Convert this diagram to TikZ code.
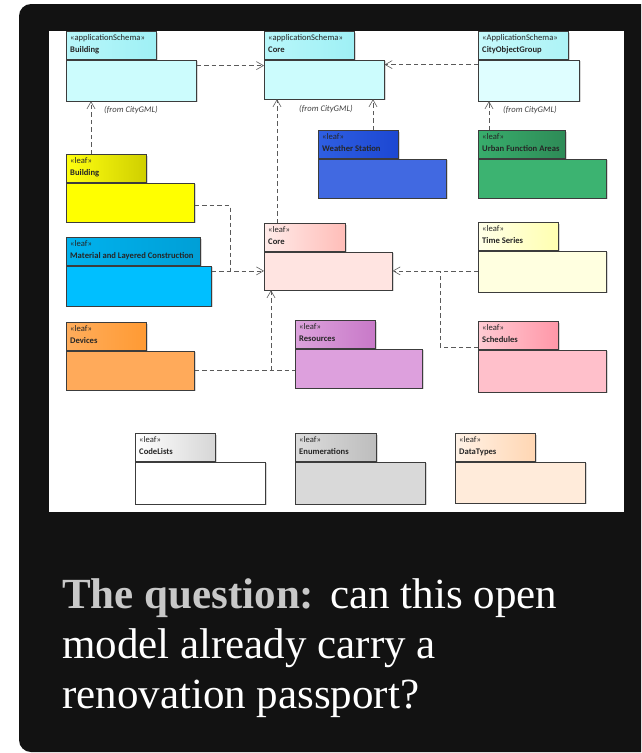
\documentclass[tikz,border=0pt]{standalone}
\usepackage{fontspec}
\setmainfont{Liberation Serif}
\newfontfamily\umlfont{Carlito}
\usepackage{tikz}
\usetikzlibrary{arrows.meta}
\usetikzlibrary{shadows}

\definecolor{cardbg}{HTML}{121212}
\definecolor{pkgline}{HTML}{3C3C3C}
\definecolor{depgray}{HTML}{5A5A5A}
\definecolor{notegray}{HTML}{404040}
\definecolor{qgray}{HTML}{C8C8C8}

\tikzset{
	pkgtab/.style={draw=pkgline, line width=0.6pt, minimum height=28pt, inner sep=0pt, anchor=north west,
		drop shadow={shadow xshift=1.2pt, shadow yshift=-1.2pt, opacity=0.3}},
	pkgbody/.style={draw=pkgline, line width=0.6pt, inner sep=0pt, anchor=north west,
		drop shadow={shadow xshift=1.2pt, shadow yshift=-1.2pt, opacity=0.3}},
	pkglabel/.style={font=\umlfont\fontsize{8.6}{11.5}\selectfont, text=black!85, align=left, anchor=north west, inner sep=0pt},
	fromnote/.style={font=\umlfont\itshape\fontsize{8.6}{9}\selectfont, text=notegray, anchor=west, inner sep=0pt},
	depline/.style={draw=depgray, line width=0.6pt, dash pattern=on 4.5pt off 3pt},
	dep/.style={depline, -{Straight Barb[length=7pt, width=8pt, line width=0.6pt]}},
	qtext/.style={font=\fontsize{43}{50}\selectfont, text=white, anchor=base west, inner sep=0pt},
	% colours of the packages
	appcyan tab/.style={left color=HTML-B8F7FA, right color=HTML-9FF0F5},
	appcyan body/.style={fill=HTML-CCFCFD},
	applight tab/.style={left color=HTML-C6F9FB, right color=HTML-ADF3F6},
	applight body/.style={fill=HTML-DFFEFF},
	bldgyel tab/.style={left color=HTML-FFFF10, right color=HTML-CFCF00},
	bldgyel body/.style={fill=HTML-FFFF00},
	wsblue tab/.style={left color=HTML-2F5FE2, right color=HTML-1C47D2},
	wsblue body/.style={fill=HTML-4169E1},
	ufagreen tab/.style={left color=HTML-38AD6C, right color=HTML-2E8B57},
	ufagreen body/.style={fill=HTML-3CB371},
	matlsky tab/.style={left color=HTML-00B2EE, right color=HTML-009FD6},
	matlsky body/.style={fill=HTML-00BFFF},
	corerose tab/.style={left color=HTML-FFEBE9, right color=HTML-FFBDB8},
	corerose body/.style={fill=HTML-FFE4E1},
	devorange tab/.style={left color=HTML-FFAD5C, right color=HTML-FF9A33},
	devorange body/.style={fill=HTML-FFAA5A},
	resplum tab/.style={left color=HTML-DCA2DC, right color=HTML-C879C8},
	resplum body/.style={fill=HTML-DDA0DD},
	tsivory tab/.style={left color=HTML-FFFFE8, right color=HTML-FFFFB0},
	tsivory body/.style={fill=HTML-FFFFE0},
	schpink tab/.style={left color=HTML-FFCBD3, right color=HTML-FF97A8},
	schpink body/.style={fill=HTML-FFC0CB},
	clwhite tab/.style={left color=white, right color=HTML-D6D6D6},
	clwhite body/.style={fill=white},
	engray tab/.style={left color=HTML-DCDCDC, right color=HTML-BDBDBD},
	engray body/.style={fill=HTML-D9D9D9},
	dtpeach tab/.style={left color=HTML-FFF2E6, right color=HTML-FFD6B3},
	dtpeach body/.style={fill=HTML-FFEBDA},
}

% colours named HTML-xxxxxx
\newcommand{\defhtml}[1]{\definecolor{HTML-#1}{HTML}{#1}}
\defhtml{B8F7FA}\defhtml{9FF0F5}\defhtml{CCFCFD}
\defhtml{C6F9FB}\defhtml{ADF3F6}\defhtml{DFFEFF}
\defhtml{FFFF10}\defhtml{CFCF00}\defhtml{FFFF00}
\defhtml{2F5FE2}\defhtml{1C47D2}\defhtml{4169E1}
\defhtml{38AD6C}\defhtml{2E8B57}\defhtml{3CB371}
\defhtml{00B2EE}\defhtml{009FD6}\defhtml{00BFFF}
\defhtml{FFEBE9}\defhtml{FFBDB8}\defhtml{FFE4E1}
\defhtml{FFAD5C}\defhtml{FF9A33}\defhtml{FFAA5A}
\defhtml{DCA2DC}\defhtml{C879C8}\defhtml{DDA0DD}
\defhtml{FFFFE8}\defhtml{FFFFB0}\defhtml{FFFFE0}
\defhtml{FFCBD3}\defhtml{FF97A8}\defhtml{FFC0CB}
\defhtml{D6D6D6}
\defhtml{DCDCDC}\defhtml{BDBDBD}\defhtml{D9D9D9}
\defhtml{FFF2E6}\defhtml{FFD6B3}\defhtml{FFEBDA}

\newcommand{\drawpackage}[9]{% name, x, y, tab width, body width, body height, stereotype, title, colour
	\node[pkgtab, #9 tab, minimum width=#4pt] (#1-tab) at (#2, #3) {};
	\node[pkgbody, #9 body, minimum width=#5pt, minimum height=#6pt] (#1) at (#1-tab.south west) {};
	\node[pkglabel] (#1-name) at ([shift={(4,3.5)}]#1-tab.north west) {«#7»\\\textbf{#8}};
}

\begin{document}
\begin{tikzpicture}[x=1pt, y=-1pt]
\useasboundingbox (0, 0) rectangle (641, 753);
\clip (0, 0) rectangle (641, 753);
\fill[white] (0, 0) rectangle (641, 753);
\fill[cardbg, rounded corners=12pt] (19, 4) rectangle (680, 752);
\fill[white] (49, 31) rectangle (624, 512);

% schemas from CityGML
\drawpackage{bldgschema}{66}{31}{90}{130}{41}{applicationSchema}{Building}{appcyan}
\drawpackage{coreschema}{264}{31}{90}{120}{39}{applicationSchema}{Core}{appcyan}
\drawpackage{cogroup}{478}{31}{90}{101}{41}{ApplicationSchema}{CityObjectGroup}{applight}

\node[fromnote] (bldgschema-from) at ([shift={(38,9)}]bldgschema.south west) {(from CityGML)};
\node[fromnote] (coreschema-from) at ([shift={(35,10)}]coreschema.south west) {(from CityGML)};
\node[fromnote] (cogroup-from) at ([shift={(25,9)}]cogroup.south west) {(from CityGML)};

% leaf packages
\drawpackage{bldg}{66}{154}{80}{128}{39}{leaf}{Building}{bldgyel}
\drawpackage{weather}{318}{130}{80}{128}{39}{leaf}{Weather Station}{wsblue}
\drawpackage{urban}{478}{130}{87}{128}{39}{leaf}{Urban Function Areas}{ufagreen}
\drawpackage{corel}{264}{223}{81}{128}{38}{leaf}{Core}{corerose}
\drawpackage{matl}{66}{237}{134}{145}{40}{leaf}{Material and Layered Construction}{matlsky}
\drawpackage{devices}{66}{322}{80}{128}{39}{leaf}{Devices}{devorange}
\drawpackage{resources}{295}{320}{80}{127}{39}{leaf}{Resources}{resplum}
\drawpackage{timeseries}{478}{222}{80}{128}{41}{leaf}{Time Series}{tsivory}
\drawpackage{schedules}{478}{321}{80}{128}{42}{leaf}{Schedules}{schpink}
\drawpackage{codelists}{135}{433}{80}{130}{42}{leaf}{CodeLists}{clwhite}
\drawpackage{enums}{295}{433}{81}{130}{42}{leaf}{Enumerations}{engray}
\drawpackage{datatypes}{455}{433}{80}{130}{41}{leaf}{DataTypes}{dtpeach}

% dependencies
\draw[dep] ([yshift=-6pt]bldgschema.north east) -- ([yshift=-6pt]coreschema.north west);
\draw[dep] ([yshift=-5pt]cogroup.north west) -- ([yshift=-5pt]coreschema.north east);

\coordinate (bldgup) at ([xshift=25pt]bldg-tab.north west);
\coordinate (wsup) at ([xshift=55pt]weather-tab.north west);
\coordinate (ufaup) at ([xshift=11pt]urban-tab.north west);
\coordinate (coreup) at ([xshift=13pt]corel-tab.north west);
\draw[dep] (bldgup) -- (bldgup |- bldgschema.south);
\draw[dep] (wsup) -- (wsup |- coreschema.south);
\draw[dep] (ufaup) -- (ufaup |- cogroup.south);
\draw[dep] (coreup) -- (coreup |- coreschema.south);

\coordinate (joinL) at ([xshift=-34pt]corel.west);
\coordinate (joinB) at ([xshift=7pt]corel.south west |- devices.east);
\coordinate (joinR) at ([xshift=48pt]corel.east);
\draw[depline] ([yshift=-3pt]bldg.east) -| (joinL);
\draw[dep] (matl.east |- corel.west) -- (corel.west);
\draw[depline] (devices.east) -- (resources.west |- devices.east);
\draw[dep] (joinB) -- (joinB |- corel.south);
\draw[dep] (timeseries.west |- corel.east) -- (corel.east);
\draw[depline] ([yshift=2pt]schedules-tab.south west) -| (joinR);

% the question
\node[qtext] (qline1) at (62, 608) {\textcolor{qgray}{\textbf{The question:}}\hspace{16pt}can this open};
\node[qtext] (qline2) at (62, 658) {model already carry a};
\node[qtext] (qline3) at (62, 708) {renovation passport?};
\end{tikzpicture}
\end{document}
